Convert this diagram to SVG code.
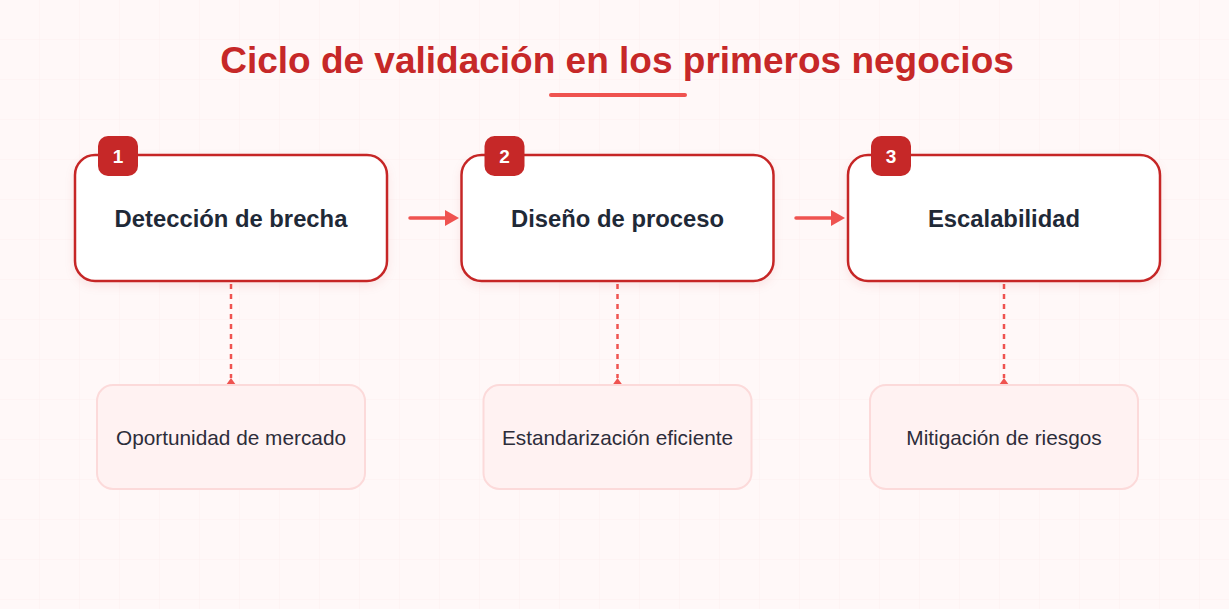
<svg xmlns="http://www.w3.org/2000/svg" width="1229" height="609" viewBox="0 0 1229 609">
<defs>
<pattern id="grid" width="40" height="40" patternUnits="userSpaceOnUse">
<path d="M40 0V40M0 40H40" fill="none" stroke="#fcf0f0" stroke-width="1"/>
</pattern>
<filter id="sh" x="-10%" y="-10%" width="120%" height="130%">
<feDropShadow dx="0" dy="4" stdDeviation="5" flood-color="#c62828" flood-opacity="0.08"/>
</filter>
</defs>
<style>
.title{font-family:"Liberation Sans",Arial,sans-serif;font-weight:bold;font-size:37px;fill:#c62828}
.main{fill:#ffffff;stroke:#c62828;stroke-width:2.5}
.mlabel{font-family:"Liberation Sans",Arial,sans-serif;font-weight:bold;font-size:23.8px;fill:#1f2937}
.badge{fill:#c62828}
.btext{font-family:"Liberation Sans",Arial,sans-serif;font-weight:bold;font-size:19px;fill:#ffffff}
.detail{fill:#fff2f2;stroke:#fcdada;stroke-width:2}
.dlabel{font-family:"Liberation Sans",Arial,sans-serif;font-size:20.8px;fill:#2d2d3a}
.flow{stroke:#ef5350;stroke-width:3.5;fill:none;stroke-linecap:round}
.dot{stroke:#ef5350;stroke-width:2.5;fill:none;stroke-dasharray:5 5}
.tip{fill:#ef5350}
</style>
<rect width="1229" height="609" fill="#fff8f8"/>
<rect width="1229" height="609" fill="url(#grid)"/>
<text class="title" x="617" y="73" text-anchor="middle">Ciclo de validación en los primeros negocios</text>
<line x1="551" y1="95" x2="685" y2="95" stroke="#ef5350" stroke-width="4" stroke-linecap="round"/>

<g id="connectors">
<line class="flow" x1="410" y1="218" x2="449" y2="218"/>
<path class="tip" d="M445 210L459 218L445 226Z"/>
<line class="flow" x1="796" y1="218" x2="835" y2="218"/>
<path class="tip" d="M831 210L845 218L831 226Z"/>
<line class="dot" x1="231" y1="284" x2="231" y2="378"/>
<path class="tip" d="M226 385L231 378L236 385Z"/>
<line class="dot" x1="617.5" y1="284" x2="617.5" y2="378"/>
<path class="tip" d="M612.5 385L617.5 378L622.5 385Z"/>
<line class="dot" x1="1004" y1="284" x2="1004" y2="378"/>
<path class="tip" d="M999 385L1004 378L1009 385Z"/>
</g>

<g id="node1">
<rect class="main" x="75" y="155" width="312" height="126" rx="20" filter="url(#sh)"/>
<rect class="badge" x="98" y="136" width="40" height="40" rx="10"/>
<text class="btext" x="118" y="163" text-anchor="middle">1</text>
<text class="mlabel" x="231" y="227" text-anchor="middle">Detección de brecha</text>
</g>
<g id="node2">
<rect class="main" x="461.5" y="155" width="312" height="126" rx="20" filter="url(#sh)"/>
<rect class="badge" x="484.5" y="136" width="40" height="40" rx="10"/>
<text class="btext" x="504.5" y="163" text-anchor="middle">2</text>
<text class="mlabel" x="617.5" y="227" text-anchor="middle">Diseño de proceso</text>
</g>
<g id="node3">
<rect class="main" x="848" y="155" width="312" height="126" rx="20" filter="url(#sh)"/>
<rect class="badge" x="871" y="136" width="40" height="40" rx="10"/>
<text class="btext" x="891" y="163" text-anchor="middle">3</text>
<text class="mlabel" x="1004" y="227" text-anchor="middle">Escalabilidad</text>
</g>

<g id="detail1">
<rect class="detail" x="97" y="385" width="268" height="104" rx="16"/>
<text class="dlabel" x="231" y="445" text-anchor="middle">Oportunidad de mercado</text>
</g>
<g id="detail2">
<rect class="detail" x="483.5" y="385" width="268" height="104" rx="16"/>
<text class="dlabel" x="617.5" y="445" text-anchor="middle">Estandarización eficiente</text>
</g>
<g id="detail3">
<rect class="detail" x="870" y="385" width="268" height="104" rx="16"/>
<text class="dlabel" x="1004" y="445" text-anchor="middle">Mitigación de riesgos</text>
</g>
</svg>
